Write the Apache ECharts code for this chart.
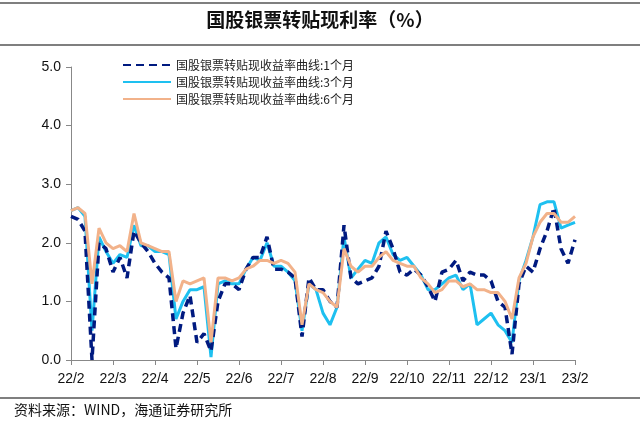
<!DOCTYPE html>
<html><head><meta charset="utf-8">
<script src="https://cdn.jsdelivr.net/npm/echarts@6/dist/echarts.min.js"></script>
<style>html,body{margin:0;padding:0;background:#fff}#c{width:640px;height:432px}</style>
</head><body><div id="c"></div>
<script>
var monthLabels = ['22/2','22/3','22/4','22/5','22/6','22/7','22/8','22/9','22/10','22/11','22/12','23/1','23/2'];
var seriesNames = ['国股银票转贴现收益率曲线:1个月','国股银票转贴现收益率曲线:3个月','国股银票转贴现收益率曲线:6个月'];
var m1 = [2.45,2.4,2.2,0.0,2.0,1.9,1.5,1.75,1.4,2.2,2.0,1.85,1.65,1.5,1.4,0.2,0.8,1.1,0.3,0.45,0.15,1.0,1.3,1.3,1.2,1.55,1.75,1.75,2.1,1.55,1.55,1.5,1.4,0.4,1.4,1.2,1.2,1.0,0.9,2.3,1.4,1.3,1.35,1.4,1.6,2.2,1.9,1.5,1.45,1.55,1.45,1.25,1.0,1.5,1.55,1.7,1.35,1.5,1.45,1.45,1.35,1.0,0.9,0.1,1.3,1.6,1.5,1.9,2.2,2.6,1.9,1.65,2.05];
var m3 = [2.55,2.6,2.45,0.5,2.1,1.85,1.65,1.8,1.75,2.3,1.95,1.95,1.85,1.85,1.8,0.7,1.0,1.2,1.2,1.25,0.05,1.3,1.35,1.3,1.3,1.55,1.75,1.7,2.0,1.6,1.6,1.5,1.35,0.5,1.3,1.2,0.8,0.6,0.9,2.1,1.4,1.55,1.7,1.65,2.0,2.1,1.8,1.7,1.75,1.6,1.45,1.2,1.2,1.3,1.4,1.45,1.2,1.3,0.6,0.7,0.8,0.6,0.5,0.3,1.35,1.7,2.1,2.65,2.7,2.7,2.25,2.3,2.35];
var m6 = [2.55,2.6,2.5,1.3,2.25,2.0,1.9,1.95,1.85,2.5,2.0,1.95,1.9,1.85,1.85,1.0,1.35,1.3,1.35,1.4,0.3,1.4,1.4,1.35,1.4,1.55,1.6,1.7,1.7,1.65,1.7,1.65,1.5,0.6,1.3,1.2,1.15,1.0,0.9,1.9,1.6,1.5,1.6,1.6,1.75,1.85,1.7,1.65,1.6,1.6,1.4,1.3,1.15,1.2,1.35,1.35,1.25,1.3,1.2,1.2,1.15,1.15,1.0,0.7,1.4,1.65,2.1,2.35,2.5,2.5,2.35,2.35,2.45];
var perMonth = 6;
var cats = m1.map(function(_, i){ return i % perMonth === 0 ? monthLabels[i / perMonth] : ''; });
var chart = echarts.init(document.getElementById('c'));
var ff = '"Noto Sans CJK SC", sans-serif';
chart.setOption({
  animation:false,
  textStyle:{fontFamily:ff},
  graphic:[
    {type:'line',shape:{x1:0,y1:3,x2:640,y2:3},style:{stroke:'#555',lineWidth:1.5}},
    {type:'line',shape:{x1:0,y1:45,x2:640,y2:45},style:{stroke:'#555',lineWidth:1.5}},
    {type:'line',shape:{x1:0,y1:398,x2:640,y2:398},style:{stroke:'#555',lineWidth:1.5}},
    {type:'text',left:'center',top:10,style:{text:'国股银票转贴现利率（%）',font:'bold 19px "Noto Sans CJK SC"',fill:'#111'}},
    {type:'text',left:14,top:403,style:{text:'资料来源：WIND，海通证券研究所',font:'14px "Noto Sans CJK SC"',fill:'#111'}}
  ],
  legend:{orient:'vertical',left:117,top:54,itemWidth:48,itemHeight:10,itemGap:5,
    itemStyle:{opacity:0},
    textStyle:{fontSize:12,color:'#222',fontFamily:ff},data:seriesNames},
  grid:{left:71,right:65,top:67,bottom:72},
  xAxis:{type:'category',boundaryGap:false,data:cats,
    axisLine:{lineStyle:{color:'#888'}},
    axisTick:{interval:perMonth-1,lineStyle:{color:'#888'},length:5},
    axisLabel:{interval:perMonth-1,color:'#111',fontSize:14,fontFamily:'Arial, "Liberation Sans"',margin:12}},
  yAxis:{type:'value',min:0,max:5,interval:1,
    axisLine:{show:true,lineStyle:{color:'#888'}},
    axisTick:{show:true,lineStyle:{color:'#888'},length:5},
    splitLine:{show:false},
    axisLabel:{formatter:function(v){return v.toFixed(1);},color:'#111',fontSize:14,fontFamily:'Arial, "Liberation Sans"',margin:10}},
  series:[
    {name:seriesNames[0],type:'line',data:m1,symbol:'none',z:3,lineStyle:{color:'#001a80',width:3.5,type:[8,5]},itemStyle:{color:'#001a80'}},
    {name:seriesNames[1],type:'line',data:m3,symbol:'none',z:2,lineStyle:{color:'#1ec0f0',width:3},itemStyle:{color:'#1ec0f0'}},
    {name:seriesNames[2],type:'line',data:m6,symbol:'none',z:4,lineStyle:{color:'#f2b28a',width:3},itemStyle:{color:'#f2b28a'}}
  ]
});
</script></body></html>
